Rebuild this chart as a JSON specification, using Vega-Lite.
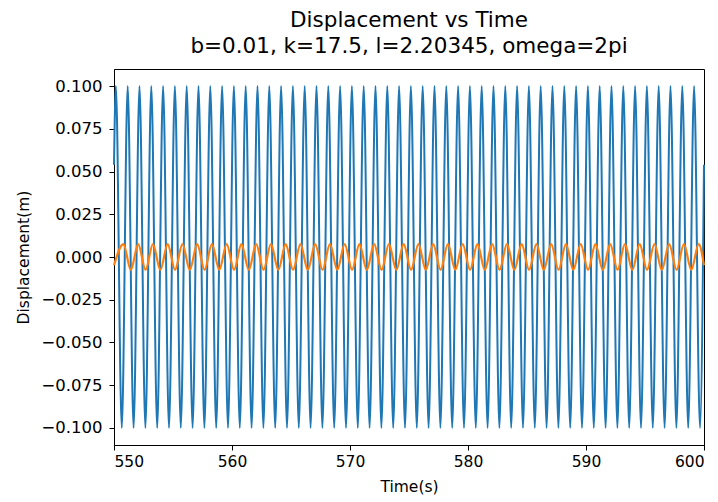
{
  "$schema": "https://vega.github.io/schema/vega-lite/v6.json",
  "autosize": {"type": "none"},
  "width": 590,
  "height": 376,
  "padding": {"left": 114, "top": 69, "right": 14, "bottom": 57},
  "background": "white",
  "config": {
    "font": "DejaVu Sans",
    "view": {"stroke": "black", "strokeWidth": 1},
    "axis": {"grid": false, "domainColor": "black", "tickColor": "black", "labelColor": "black", "titleColor": "black", "labelFont": "DejaVu Sans", "titleFont": "DejaVu Sans", "labelFontSize": 15.5, "titleFontSize": 15.5, "titleFontWeight": "normal", "tickSize": 5}
  },
  "title": {"text": ["Displacement vs Time", "b=0.01, k=17.5, l=2.20345, omega=2pi"], "fontSize": 21.5, "fontWeight": "normal", "font": "DejaVu Sans", "color": "black", "lineHeight": 26, "offset": 12},
  "datasets": {
    "blue": [
      {"t":550,"y":0.054},
      {"t":550.16,"y":0.1},{"t":550.66,"y":-0.1},{"t":551.16,"y":0.1},{"t":551.66,"y":-0.1},{"t":552.16,"y":0.1},{"t":552.66,"y":-0.1},{"t":553.16,"y":0.1},{"t":553.66,"y":-0.1},{"t":554.16,"y":0.1},{"t":554.66,"y":-0.1},
      {"t":555.16,"y":0.1},{"t":555.66,"y":-0.1},{"t":556.16,"y":0.1},{"t":556.66,"y":-0.1},{"t":557.16,"y":0.1},{"t":557.66,"y":-0.1},{"t":558.16,"y":0.1},{"t":558.66,"y":-0.1},{"t":559.16,"y":0.1},{"t":559.66,"y":-0.1},
      {"t":560.16,"y":0.1},{"t":560.66,"y":-0.1},{"t":561.16,"y":0.1},{"t":561.66,"y":-0.1},{"t":562.16,"y":0.1},{"t":562.66,"y":-0.1},{"t":563.16,"y":0.1},{"t":563.66,"y":-0.1},{"t":564.16,"y":0.1},{"t":564.66,"y":-0.1},
      {"t":565.16,"y":0.1},{"t":565.66,"y":-0.1},{"t":566.16,"y":0.1},{"t":566.66,"y":-0.1},{"t":567.16,"y":0.1},{"t":567.66,"y":-0.1},{"t":568.16,"y":0.1},{"t":568.66,"y":-0.1},{"t":569.16,"y":0.1},{"t":569.66,"y":-0.1},
      {"t":570.16,"y":0.1},{"t":570.66,"y":-0.1},{"t":571.16,"y":0.1},{"t":571.66,"y":-0.1},{"t":572.16,"y":0.1},{"t":572.66,"y":-0.1},{"t":573.16,"y":0.1},{"t":573.66,"y":-0.1},{"t":574.16,"y":0.1},{"t":574.66,"y":-0.1},
      {"t":575.16,"y":0.1},{"t":575.66,"y":-0.1},{"t":576.16,"y":0.1},{"t":576.66,"y":-0.1},{"t":577.16,"y":0.1},{"t":577.66,"y":-0.1},{"t":578.16,"y":0.1},{"t":578.66,"y":-0.1},{"t":579.16,"y":0.1},{"t":579.66,"y":-0.1},
      {"t":580.16,"y":0.1},{"t":580.66,"y":-0.1},{"t":581.16,"y":0.1},{"t":581.66,"y":-0.1},{"t":582.16,"y":0.1},{"t":582.66,"y":-0.1},{"t":583.16,"y":0.1},{"t":583.66,"y":-0.1},{"t":584.16,"y":0.1},{"t":584.66,"y":-0.1},
      {"t":585.16,"y":0.1},{"t":585.66,"y":-0.1},{"t":586.16,"y":0.1},{"t":586.66,"y":-0.1},{"t":587.16,"y":0.1},{"t":587.66,"y":-0.1},{"t":588.16,"y":0.1},{"t":588.66,"y":-0.1},{"t":589.16,"y":0.1},{"t":589.66,"y":-0.1},
      {"t":590.16,"y":0.1},{"t":590.66,"y":-0.1},{"t":591.16,"y":0.1},{"t":591.66,"y":-0.1},{"t":592.16,"y":0.1},{"t":592.66,"y":-0.1},{"t":593.16,"y":0.1},{"t":593.66,"y":-0.1},{"t":594.16,"y":0.1},{"t":594.66,"y":-0.1},
      {"t":595.16,"y":0.1},{"t":595.66,"y":-0.1},{"t":596.16,"y":0.1},{"t":596.66,"y":-0.1},{"t":597.16,"y":0.1},{"t":597.66,"y":-0.1},{"t":598.16,"y":0.1},{"t":598.66,"y":-0.1},{"t":599.16,"y":0.1},{"t":599.66,"y":-0.1},
      {"t":600,"y":0.054}
    ],
    "orange": [
      {"t":550,"y":-0.0048},
      {"t":550.8,"y":0.0075},{"t":551.425,"y":-0.0075},{"t":552.05,"y":0.0075},{"t":552.675,"y":-0.0075},{"t":553.3,"y":0.0075},{"t":553.925,"y":-0.0075},{"t":554.55,"y":0.0075},{"t":555.175,"y":-0.0075},
      {"t":555.8,"y":0.0075},{"t":556.425,"y":-0.0075},{"t":557.05,"y":0.0075},{"t":557.675,"y":-0.0075},{"t":558.3,"y":0.0075},{"t":558.925,"y":-0.0075},{"t":559.55,"y":0.0075},{"t":560.175,"y":-0.0075},
      {"t":560.8,"y":0.0075},{"t":561.425,"y":-0.0075},{"t":562.05,"y":0.0075},{"t":562.675,"y":-0.0075},{"t":563.3,"y":0.0075},{"t":563.925,"y":-0.0075},{"t":564.55,"y":0.0075},{"t":565.175,"y":-0.0075},
      {"t":565.8,"y":0.0075},{"t":566.425,"y":-0.0075},{"t":567.05,"y":0.0075},{"t":567.675,"y":-0.0075},{"t":568.3,"y":0.0075},{"t":568.925,"y":-0.0075},{"t":569.55,"y":0.0075},{"t":570.175,"y":-0.0075},
      {"t":570.8,"y":0.0075},{"t":571.425,"y":-0.0075},{"t":572.05,"y":0.0075},{"t":572.675,"y":-0.0075},{"t":573.3,"y":0.0075},{"t":573.925,"y":-0.0075},{"t":574.55,"y":0.0075},{"t":575.175,"y":-0.0075},
      {"t":575.8,"y":0.0075},{"t":576.425,"y":-0.0075},{"t":577.05,"y":0.0075},{"t":577.675,"y":-0.0075},{"t":578.3,"y":0.0075},{"t":578.925,"y":-0.0075},{"t":579.55,"y":0.0075},{"t":580.175,"y":-0.0075},
      {"t":580.8,"y":0.0075},{"t":581.425,"y":-0.0075},{"t":582.05,"y":0.0075},{"t":582.675,"y":-0.0075},{"t":583.3,"y":0.0075},{"t":583.925,"y":-0.0075},{"t":584.55,"y":0.0075},{"t":585.175,"y":-0.0075},
      {"t":585.8,"y":0.0075},{"t":586.425,"y":-0.0075},{"t":587.05,"y":0.0075},{"t":587.675,"y":-0.0075},{"t":588.3,"y":0.0075},{"t":588.925,"y":-0.0075},{"t":589.55,"y":0.0075},{"t":590.175,"y":-0.0075},
      {"t":590.8,"y":0.0075},{"t":591.425,"y":-0.0075},{"t":592.05,"y":0.0075},{"t":592.675,"y":-0.0075},{"t":593.3,"y":0.0075},{"t":593.925,"y":-0.0075},{"t":594.55,"y":0.0075},{"t":595.175,"y":-0.0075},
      {"t":595.8,"y":0.0075},{"t":596.425,"y":-0.0075},{"t":597.05,"y":0.0075},{"t":597.675,"y":-0.0075},{"t":598.3,"y":0.0075},{"t":598.925,"y":-0.0075},{"t":599.55,"y":0.0075},
      {"t":600,"y":-0.0048}
    ]
  },
  "encoding": {
    "x": {"field": "t", "type": "quantitative", "title": "Time(s)",
          "scale": {"domain": [550, 600], "nice": false, "zero": false},
          "axis": {"values": [550, 560, 570, 580, 590, 600], "format": "d", "labelPadding": 4, "titlePadding": 10}},
    "y": {"field": "y", "type": "quantitative", "title": "Displacement(m)",
          "scale": {"domain": [-0.11, 0.11], "nice": false, "zero": false},
          "axis": {"values": [-0.1, -0.075, -0.05, -0.025, 0, 0.025, 0.05, 0.075, 0.1], "format": ".3f", "labelFontSize": 16.5, "labelPadding": 7, "titlePadding": 9}}
  },
  "layer": [
    {"data": {"name": "blue"}, "mark": {"type": "line", "color": "#1f77b4", "strokeWidth": 2, "interpolate": "monotone"}},
    {"data": {"name": "orange"}, "mark": {"type": "line", "color": "#ff7f0e", "strokeWidth": 2.2, "interpolate": "monotone"}}
  ]
}
